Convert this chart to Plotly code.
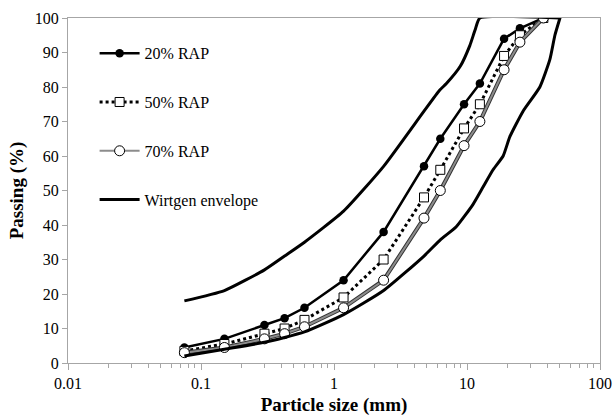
import plotly.graph_objects as go

sieve_mm = [0.075, 0.15, 0.3, 0.425, 0.6, 1.18, 2.36, 4.75, 6.3, 9.5, 12.5, 19, 25, 37.5]
rap20 = [4.5, 7, 11, 13, 16, 24, 38, 57, 65, 75, 81, 94, 97, 100]
rap50 = [3.5, 5.5, 8.5, 10, 12.5, 19, 30, 48, 56, 68, 75, 89, 95, 100]
rap70 = [3, 4.5, 7, 8.5, 10.5, 16, 24, 42, 50, 63, 70, 85, 93, 100]

env_upper_mm = [0.075, 0.15, 0.3, 0.425, 0.6, 1.18, 2.36, 4.75, 6.2, 7.0, 8.9, 10.5, 11.5, 12.5, 50]
env_upper_pct = [18, 21, 27, 31, 35, 44, 57, 73, 79, 81, 86, 92, 96.5, 100, 100]
env_lower_mm = [50, 45.8, 42, 35.3, 26.4, 21, 18.7, 15.7, 13.2, 11.1, 8.3, 6.3, 4.75, 2.36, 1.18, 0.6, 0.3, 0.15, 0.075]
env_lower_pct = [100, 95, 88, 80, 73, 65.6, 60, 56, 51, 46, 39.5, 35.7, 31, 21, 14, 9, 6, 4, 2]

x_tick_vals = [0.01, 0.1, 1, 10, 100]
x_tick_text = ["0.01", "0.1", "1", "10", "100"]
x_minor_vals = [m * d for d in [0.01, 0.1, 1, 10] for m in range(2, 10)]
y_tick_vals = list(range(0, 101, 10))

FONT = "Liberation Serif"
GRAY = "#a6a6a6"

fig = go.Figure()

fig.add_trace(go.Scatter(
    x=sieve_mm, y=rap20, mode="lines+markers", name="20% RAP",
    line=dict(color="black", width=2.5),
    marker=dict(symbol="circle", size=8.5, color="black"),
    legendgroup="a"))

fig.add_trace(go.Scatter(
    x=sieve_mm, y=rap50, mode="lines+markers", name="50% RAP",
    line=dict(color="black", width=3, dash="dot"),
    marker=dict(symbol="square", size=9, color="white", line=dict(color="black", width=1)),
    legendgroup="b"))

fig.add_trace(go.Scatter(
    x=sieve_mm, y=rap70, mode="lines", name="70% RAP border",
    line=dict(color="#333333", width=4),
    showlegend=False, legendgroup="c", hoverinfo="skip"))

fig.add_trace(go.Scatter(
    x=sieve_mm, y=rap70, mode="lines+markers", name="70% RAP",
    line=dict(color="#8c8c8c", width=2),
    marker=dict(symbol="circle", size=10, color="white", line=dict(color="black", width=1)),
    legendgroup="c"))

fig.add_trace(go.Scatter(
    x=env_upper_mm + env_lower_mm, y=env_upper_pct + env_lower_pct,
    mode="lines", name="Wirtgen envelope",
    line=dict(color="black", width=3, shape="spline", smoothing=0.5),
    legendgroup="d"))

fig.update_layout(
    width=613, height=416,
    margin=dict(l=68, r=13, t=18, b=53),
    paper_bgcolor="white", plot_bgcolor="white",
    font=dict(family=FONT, size=15, color="black"),
    showlegend=True,
    legend=dict(x=0.05, y=0.947, xanchor="left", yanchor="top",
                bgcolor="rgba(0,0,0,0)", font=dict(family=FONT, size=16),
                tracegroupgap=25, itemwidth=40),
    xaxis=dict(
        type="log", range=[-2, 2], automargin=False,
        tickvals=x_tick_vals, ticktext=x_tick_text,
        ticks="outside", ticklen=6, tickcolor=GRAY,
        minor=dict(tickvals=x_minor_vals, ticks="outside", ticklen=4, tickcolor=GRAY),
        showgrid=False, zeroline=False,
        showline=True, linecolor=GRAY, linewidth=1, mirror=True,
        tickfont=dict(family=FONT, size=16),
        title=dict(text="<b>Particle size (mm)</b>", font=dict(family=FONT, size=19), standoff=7),
    ),
    yaxis=dict(
        range=[0, 100], tickvals=y_tick_vals, automargin=False,
        ticks="outside", ticklen=5, tickcolor=GRAY,
        showgrid=False, zeroline=False,
        showline=True, linecolor=GRAY, linewidth=1, mirror=True,
        tickfont=dict(family=FONT, size=16),
        title=dict(text="<b>Passing (%)</b>", font=dict(family=FONT, size=19), standoff=6),
    ),
)

fig.write_html(
    "out.html",
    config={"displayModeBar": False},
    post_script="document.body.style.margin='0';document.body.style.padding='0';document.body.style.overflow='hidden';",
)
